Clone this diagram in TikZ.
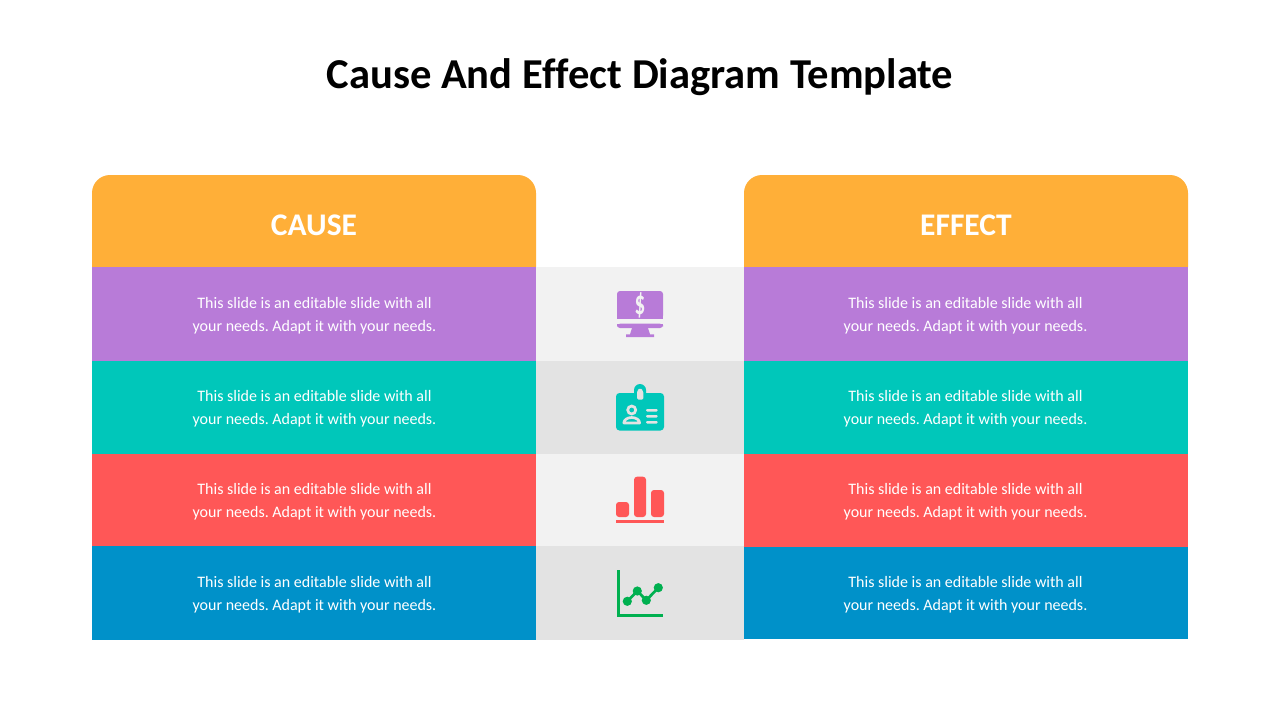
\documentclass[tikz,border=0pt]{standalone}
\usepackage{fontspec}
\setmainfont[Ligatures=NoCommon]{Carlito}
\definecolor{corange}{HTML}{FFAF38}
\definecolor{cpurple}{HTML}{B87BD8}
\definecolor{cteal}{HTML}{00C7BA}
\definecolor{cred}{HTML}{FF5757}
\definecolor{cblue}{HTML}{0091C9}
\definecolor{cgreen}{HTML}{00B050}
\definecolor{gl}{HTML}{F2F2F2}
\definecolor{gd}{HTML}{E3E3E3}
\tikzset{
  band/.style={inner sep=0pt,outer sep=0pt,minimum width=444pt,anchor=north west},
  midband/.style={inner sep=0pt,outer sep=0pt,minimum width=208pt,anchor=north west},
  bodytext/.style={text=white,font=\fontsize{16pt}{23.2pt}\selectfont\frenchspacing,align=center,inner sep=0pt},
  headtext/.style={text=white,font=\fontsize{31.5pt}{34pt}\selectfont\bfseries,inner sep=0pt},
  titletext/.style={text=black,font=\fontsize{42.6pt}{48pt}\selectfont\bfseries,inner sep=0pt},
}
\newcommand{\bodymsg}{This slide is an editable slide with all\\your needs. Adapt it with your needs.}
\begin{document}
\begin{tikzpicture}[x=1pt,y=-1pt]
\useasboundingbox (0,0) rectangle (1280,720);
\fill[white] (0,0) rectangle (1280,720);
\node[titletext] (title) at (640,77) {Cause And Ef\kern0.3pt fect Diagram Template};
% headers
\fill[corange] (92,267) -- (92,193) arc[start angle=180,end angle=90,radius=18pt] -- (518,175) arc[start angle=90,end angle=0,radius=18pt] -- (536,267) -- cycle;
\fill[corange] (744,267) -- (744,193) arc[start angle=180,end angle=90,radius=18pt] -- (1170,175) arc[start angle=90,end angle=0,radius=18pt] -- (1188,267) -- cycle;
\node[headtext] (cause) at (314,225) {CAUSE};
\node[headtext] (effect) at (966,225) {EFFECT};
% left bands
\node[band,fill=cpurple,minimum height=94pt] (l1) at (92,267) {};
\node[band,fill=cteal,minimum height=93pt] (l2) at (92,361) {};
\node[band,fill=cred,minimum height=92pt] (l3) at (92,454) {};
\node[band,fill=cblue,minimum height=94pt] (l4) at (92,546) {};
% middle bands
\node[midband,fill=gl,minimum height=94pt] (m1) at (536,267) {};
\node[midband,fill=gd,minimum height=93pt] (m2) at (536,361) {};
\node[midband,fill=gl,minimum height=92pt] (m3) at (536,454) {};
\node[midband,fill=gd,minimum height=94pt] (m4) at (536,546) {};
% right bands
\node[band,fill=cpurple,minimum height=94pt] (r1) at (744,267) {};
\node[band,fill=cteal,minimum height=93pt] (r2) at (744,361) {};
\node[band,fill=cred,minimum height=93pt] (r3) at (744,454) {};
\node[band,fill=cblue,minimum height=92pt] (r4) at (744,547) {};
% text
\foreach \y/\n in {315.5/1,408.5/2,501.5/3,594.5/4}{
  \node[bodytext] (lt\n) at (314.5,\y) {\bodymsg};
  \node[bodytext] (rt\n) at (965.5,\y) {\bodymsg};
}
% icon 1: monitor
\fill[cpurple,rounded corners=3pt] (617,318.7) -- (617,291) -- (663,291) -- (663,318.7) -- cycle;
\fill[cpurple] (617,312) rectangle (663,318.7);
\fill[cpurple,rounded corners=3pt] (617,323.7) -- (617,328) -- (663,328) -- (663,323.7) -- cycle;
\fill[cpurple] (617,323.7) rectangle (663,325.5);
\fill[cpurple] (632,328) -- (648,328) -- (650,334.3) -- (654,334.3) -- (654,337) -- (626,337) -- (626,334.3) -- (630,334.3) -- cycle;
\node[text=gl,inner sep=0pt,xscale=.62,font=\fontsize{34pt}{34pt}\selectfont\bfseries] (dollar) at (640,305) {\$};
% icon 2: badge
\fill[cteal] (634,395) -- (634,390) arc[start angle=180,end angle=0,radius=6pt] -- (646,395) -- cycle;
\fill[cteal,rounded corners=3.5pt] (616,393) rectangle (664,430.5);
\fill[gd,rounded corners=1.5pt] (637,391) -- (640,387.7) -- (643.3,391) -- (643.3,399.7) -- (637,399.7) -- cycle;
\draw[gd,line width=2.7pt] (631.7,410) circle[radius=4pt];
\draw[gd,line width=2.7pt,line join=round] (623.8,423) -- (639.6,423) arc[start angle=0,end angle=180,x radius=7.9pt,y radius=5.5pt] -- cycle;
\fill[gd,rounded corners=1.2pt] (646,409) rectangle (657.7,411.7);
\fill[gd,rounded corners=1.2pt] (646,415) rectangle (657.7,417.7);
\fill[gd,rounded corners=1.2pt] (646,421) rectangle (657.7,423.7);
% icon 3: bars
\fill[cred,rounded corners=3pt] (616,502) rectangle (629,517);
\fill[cred,rounded corners=3pt] (634,476.7) rectangle (646,517);
\fill[cred,rounded corners=3pt] (651,490) rectangle (664,517);
\fill[cred] (616,520) rectangle (664,523);
% icon 4: line chart
\draw[cgreen,line width=2.7pt] (618.6,570) -- (618.6,615.4) -- (662.8,615.4);
\draw[cgreen,line width=2.7pt] (627.3,601.3) -- (637.3,591) -- (646.3,600.3) -- (658.3,587.7);
\foreach \p in {(627.3,601.3),(637.3,591),(646.3,600.3),(658.3,587.7)}
  \fill[cgreen] \p circle[radius=4.6pt];
\end{tikzpicture}
\end{document}
